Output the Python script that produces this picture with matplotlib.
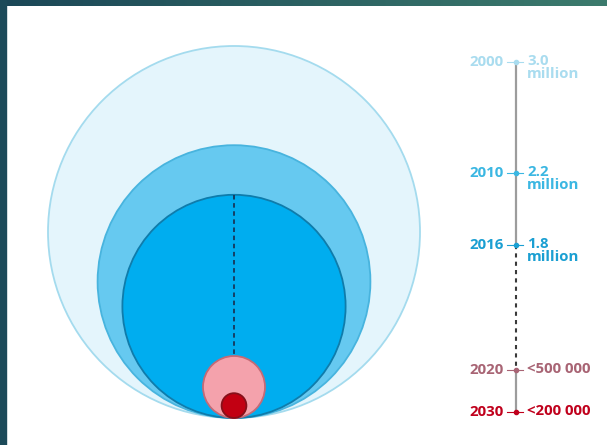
import matplotlib.pyplot as plt
import numpy as np
from matplotlib.patches import Circle, Rectangle

# data
years = ['2000', '2010', '2016', '2020', '2030']
values = [3.0, 2.2, 1.8, 0.5, 0.2]   # millions
value_labels = ['3.0\nmillion', '2.2\nmillion', '1.8\nmillion', '<500 000', '<200 000']

# styles / layout (pixel coords)
fills = ['#e4f5fc', '#66c9f0', '#00adef', '#f4a2ac', '#c20012']
edges = ['#a4dbee', '#48b4de', '#0f7cab', '#c46a76', '#86101a']
text_cols = ['#a9dcef', '#3bb7e2', '#1a9fd2', '#a86474', '#c0001c']
label_y = [62, 173, 245, 370, 412]
scale = 62.0          # px per million (radius)
cx, bottom = 234, 418
line_x = 516

plt.rcParams['font.family'] = ['Open Sans', 'DejaVu Sans']

fig = plt.figure(figsize=(6.07, 4.45), dpi=100)
ax = fig.add_axes([0, 0, 1, 1])
ax.set_xlim(0, 607)
ax.set_ylim(445, 0)
ax.axis('off')

# frame bands
grad = np.linspace(0, 1, 256).reshape(1, -1)
c0 = np.array([0x1b, 0x47, 0x57]) / 255
c1 = np.array([0x3c, 0x7b, 0x6d]) / 255
img = c0 + (c1 - c0) * grad[..., None]
ax.imshow(img, extent=[0, 607, 6, 0], aspect='auto', zorder=10)
ax.add_patch(Rectangle((0, 0), 6, 445, color='#1c4a59', zorder=10))

# circles, tangent at the bottom
for v, fc, ec in zip(values, fills, edges):
    r = v * scale
    ax.add_patch(Circle((cx, bottom - r), r, fc=fc, ec=ec, lw=1.3, zorder=2))

# dashed line from top of 2016 circle to top of 2020 circle
ax.plot([cx, cx], [bottom - 2 * values[2] * scale, bottom - 2 * values[3] * scale],
        color='#17375a', lw=1.3, ls=(0, (2.5, 2)), zorder=3)

# timeline
ax.plot([line_x, line_x], [label_y[0], label_y[2]], color='#9c9c9c', lw=1.6, zorder=2)
ax.plot([line_x, line_x], [label_y[2], label_y[3]], color='#3a3a3a', lw=1.5,
        ls=(0, (2, 2)), zorder=2)
ax.plot([line_x, line_x], [label_y[3], label_y[4]], color='#9c9c9c', lw=1.6, zorder=2)

for yr, lab, y, col in zip(years, value_labels, label_y, text_cols):
    ax.plot([line_x - 9, line_x + 7], [y, y], color=col, lw=0.8, zorder=3)
    ax.plot(line_x, y, 'o', color=col, ms=3, zorder=4)
    ax.text(line_x - 12, y, yr, color=col, fontsize=10.8, fontweight='bold',
            ha='right', va='center')
    ax.text(line_x + 11, y - 8, lab, color=col, fontsize=10.8, fontweight='bold',
            ha='left', va='top', linespacing=0.9)

fig.savefig('out.png', dpi=100)
